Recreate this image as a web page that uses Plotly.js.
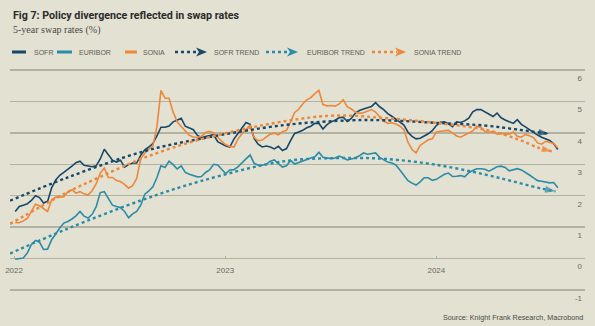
<!DOCTYPE html>
<html><head><meta charset="utf-8">
<script src="https://cdn.plot.ly/plotly-3.0.1.min.js"></script>
<style>html,body{margin:0;padding:0;background:#e2e1d2;}#chart{width:595px;height:326px;}</style>
</head><body><div id="chart"></div>
<script>
// ---------- DATA ----------
const dates = [
'2022-01-03','2022-01-10','2022-01-17','2022-01-24','2022-01-31','2022-02-07','2022-02-14','2022-02-21','2022-02-28','2022-03-07',
'2022-03-14','2022-03-21','2022-03-28','2022-04-04','2022-04-11','2022-04-18','2022-04-25','2022-05-02','2022-05-09','2022-05-16',
'2022-05-23','2022-05-30','2022-06-06','2022-06-13','2022-06-20','2022-06-27','2022-07-04','2022-07-11','2022-07-18','2022-07-25',
'2022-08-01','2022-08-08','2022-08-15','2022-08-22','2022-08-29','2022-09-05','2022-09-12','2022-09-19','2022-09-26','2022-10-03',
'2022-10-10','2022-10-17','2022-10-24','2022-10-31','2022-11-07','2022-11-14','2022-11-21','2022-11-28','2022-12-05','2022-12-12',
'2022-12-19','2022-12-26','2023-01-02','2023-01-09','2023-01-16','2023-01-23','2023-01-30','2023-02-06','2023-02-13','2023-02-20',
'2023-02-27','2023-03-06','2023-03-13','2023-03-20','2023-03-27','2023-04-03','2023-04-10','2023-04-17','2023-04-24','2023-05-01',
'2023-05-08','2023-05-15','2023-05-22','2023-05-29','2023-06-05','2023-06-12','2023-06-19','2023-06-26','2023-07-03','2023-07-10',
'2023-07-17','2023-07-24','2023-07-31','2023-08-07','2023-08-14','2023-08-21','2023-08-28','2023-09-04','2023-09-11','2023-09-18',
'2023-09-25','2023-10-02','2023-10-09','2023-10-16','2023-10-23','2023-10-30','2023-11-06','2023-11-13','2023-11-20','2023-11-27',
'2023-12-04','2023-12-11','2023-12-18','2023-12-25','2024-01-01','2024-01-08','2024-01-15','2024-01-22','2024-01-29','2024-02-05',
'2024-02-12','2024-02-19','2024-02-26','2024-03-04','2024-03-11','2024-03-18','2024-03-25','2024-04-01','2024-04-08','2024-04-15',
'2024-04-22','2024-04-29','2024-05-06','2024-05-13','2024-05-20','2024-05-27','2024-06-03','2024-06-10','2024-06-17','2024-06-24',
'2024-07-01','2024-07-08','2024-07-15','2024-07-22','2024-07-29'];

const sofr = [
1.50,1.66,1.70,1.74,1.85,2.00,1.94,1.77,1.82,2.25,
2.50,2.65,2.74,2.83,2.94,3.05,3.10,2.97,2.94,2.92,
2.95,3.17,3.48,3.30,3.13,3.07,3.13,2.91,2.99,3.04,
3.04,3.29,3.46,3.55,3.66,3.90,4.18,4.18,4.22,4.35,
4.40,4.46,4.21,4.15,4.10,3.92,3.85,3.88,3.91,3.94,
3.72,3.65,3.58,3.55,3.80,3.98,4.15,4.33,4.27,3.82,
3.64,3.55,3.58,3.55,3.49,3.57,3.44,3.50,3.75,3.98,
4.03,4.08,4.16,4.21,4.30,4.30,4.12,4.26,4.35,4.40,
4.48,4.50,4.36,4.46,4.63,4.71,4.76,4.80,4.84,4.96,
4.83,4.74,4.61,4.53,4.43,4.35,4.25,4.02,3.89,3.81,
3.83,3.90,3.97,4.07,4.23,4.34,4.35,4.29,4.20,4.35,
4.33,4.38,4.47,4.67,4.74,4.74,4.67,4.59,4.52,4.63,
4.48,4.41,4.35,4.30,4.42,4.27,4.19,4.10,4.02,3.93,
3.86,3.80,3.76,3.65,3.47];

const euribor = [
-0.02,0.00,0.02,0.18,0.45,0.58,0.52,0.29,0.30,0.60,
0.80,0.97,1.13,1.18,1.26,1.36,1.50,1.35,1.29,1.41,
1.65,2.10,2.13,1.89,1.70,1.66,1.62,1.50,1.30,1.42,
1.50,1.70,2.05,2.15,2.28,2.58,2.95,2.90,3.10,2.99,
2.85,2.95,2.74,2.68,2.64,2.60,2.61,2.74,2.82,3.00,
2.98,2.85,2.70,2.82,2.83,2.92,3.05,3.20,3.30,3.03,
2.97,2.97,3.00,3.10,3.14,3.02,2.91,2.95,3.12,3.01,
3.06,3.12,3.15,3.20,3.24,3.38,3.22,3.20,3.18,3.20,
3.26,3.21,3.14,3.17,3.20,3.27,3.36,3.32,3.34,3.36,
3.22,3.14,3.07,3.04,2.98,2.82,2.63,2.48,2.40,2.34,
2.44,2.57,2.57,2.49,2.52,2.61,2.68,2.72,2.61,2.62,
2.64,2.60,2.73,2.80,2.86,2.86,2.84,2.78,2.86,2.92,
2.94,2.90,2.79,2.82,2.86,2.82,2.75,2.66,2.57,2.48,
2.46,2.44,2.41,2.42,2.25];

const sonia = [
1.15,1.14,1.20,1.28,1.50,1.73,1.68,1.58,1.50,1.87,
1.96,1.95,1.97,2.12,2.19,2.08,2.13,2.06,2.02,2.16,
2.38,2.72,2.88,2.58,2.58,2.48,2.45,2.36,2.24,2.32,
2.55,3.18,3.35,3.48,3.58,4.20,5.35,5.10,5.10,4.66,
4.35,4.20,4.05,3.92,3.87,3.85,3.89,4.01,4.05,4.00,
3.86,3.73,3.62,3.57,3.55,3.80,3.97,4.10,4.25,3.85,
3.75,3.77,3.86,3.96,3.99,3.94,4.04,4.08,4.35,4.65,
4.75,4.92,5.05,5.12,5.25,5.35,4.90,4.86,4.87,4.85,
4.92,5.05,4.83,4.76,4.66,4.62,4.64,4.68,4.74,4.66,
4.50,4.37,4.30,4.32,4.28,4.21,4.10,3.70,3.47,3.36,
3.60,3.70,3.78,3.81,4.03,4.05,4.07,4.08,4.00,3.90,
3.86,3.93,3.98,4.06,4.21,4.17,4.04,4.02,4.04,3.96,
3.98,3.96,3.96,4.03,3.89,3.86,3.95,3.91,3.85,3.68,
3.64,3.73,3.70,3.66,3.52];

const sofrTrendDates = ['2021-12-25','2022-04-02','2022-08-13','2022-11-19','2023-04-14','2023-08-08','2023-10-05','2023-12-30','2024-03-26','2024-05-22','2024-07-14'];
const sofrTrend      = [1.84,2.57,3.41,3.81,4.25,4.40,4.40,4.32,4.23,4.10,3.97];
const euriborTrendDates = ['2021-12-25','2022-04-02','2022-08-13','2022-11-19','2023-04-14','2023-08-08','2023-10-05','2023-12-30','2024-03-26','2024-05-22','2024-07-02','2024-07-25'];
const euriborTrend      = [0.16,0.94,1.88,2.46,3.10,3.20,3.17,2.99,2.67,2.41,2.22,2.14];
const soniaTrendDates = ['2021-12-25','2022-04-02','2022-05-30','2022-08-13','2022-11-19','2023-04-14','2023-07-09','2023-10-05','2023-12-30','2024-03-26','2024-05-22','2024-06-26','2024-07-19'];
const soniaTrend      = [1.10,2.10,2.60,3.20,3.79,4.37,4.55,4.47,4.32,4.10,3.79,3.52,3.41];

const yTicks = [-1,0,1,2,3,4,5,6];
const xTickVals = ['2022-01-01','2023-01-01','2024-01-01'];
const xTickText = ['2022','2023','2024'];
const xRange = ['2021-12-25','2024-09-14'];
const seriesNames = ['SOFR','EURIBOR','SONIA','SOFR TREND','EURIBOR TREND','SONIA TREND'];

// ---------- STYLE ----------
const C = {sofr:'#174769', eur:'#2b8ca8', son:'#ee873a', bg:'#e2e1d2', grid:'#b3b2a0', txt:'#5d5d55'};
const W=595,H=326,ML=10,MR=10,MT=60,MB=18;
const PW=W-ML-MR, PH=H-MT-MB;
const px = x => (x-ML)/PW;
const py = y => (H-MB-y)/PH;
const yMin=-1.5727, yMax=6.318;

function line(x,y,color,name){
  return {type:'scatter',mode:'lines',x:x,y:y,name:name,line:{color:color,width:1.6},hoverinfo:'skip',showlegend:false};
}
function trend(x,y,color,name){
  const n=x.length;
  return {type:'scatter',mode:'lines+markers',x:x,y:y,name:name,showlegend:false,hoverinfo:'skip',
    line:{color:color,width:2.4,dash:'dot',shape:'spline',smoothing:1},
    marker:{symbol:'arrow',angleref:'previous',size:x.map((_,i)=>i===n-1?11:0),color:color,line:{width:0}}};
}
const data = [
  line(dates,sofr,C.sofr,seriesNames[0]),
  line(dates,euribor,C.eur,seriesNames[1]),
  line(dates,sonia,C.son,seriesNames[2]),
  trend(sofrTrendDates,sofrTrend,C.sofr,seriesNames[3]),
  trend(euriborTrendDates,euriborTrend,C.eur,seriesNames[4]),
  trend(soniaTrendDates,soniaTrend,C.son,seriesNames[5])
];

const shapes = [];
const ann = [];

// ---------- LEGEND (drawn) ----------
const legY = 52;
const legItems = [
  {x0:12,x1:26,tx:32,color:C.sofr,dot:false},
  {x0:57,x1:72,tx:77,color:C.eur,dot:false},
  {x0:125,x1:137,tx:141,color:C.son,dot:false},
  {x0:175,x1:198,tx:212,color:C.sofr,dot:true},
  {x0:266,x1:289,tx:305,color:C.eur,dot:true},
  {x0:372,x1:397,tx:412,color:C.son,dot:true}
];
legItems.forEach((it,i)=>{
  shapes.push({type:'line',xref:'paper',yref:'paper',x0:px(it.x0),x1:px(it.x1),y0:py(legY),y1:py(legY),
    line:{color:it.color,width:it.dot?2.4:3,dash:it.dot?'dot':'solid'}});
  if(it.dot){
    const b=it.x1-2, t=it.x1+9;
    shapes.push({type:'path',xref:'paper',yref:'paper',fillcolor:it.color,line:{width:0},
      path:`M${px(b)},${py(legY-4.5)} L${px(t)},${py(legY)} L${px(b)},${py(legY+4.5)} L${px(b+3)},${py(legY)} Z`});
  }
  ann.push({xref:'paper',yref:'paper',x:px(it.tx),y:py(legY),xanchor:'left',yanchor:'middle',showarrow:false,
    text:seriesNames[i],font:{family:'Liberation Sans, Arial',size:7,color:C.txt}});
});

ann.push({xref:'paper',yref:'paper',x:px(11),y:py(16),xanchor:'left',yanchor:'middle',showarrow:false,
  text:'<b>Fig 7: Policy divergence reflected in swap rates</b>',font:{family:'Roboto, Arial',size:10.7,color:'#2b2b2b'}});
ann.push({xref:'paper',yref:'paper',x:px(11),y:py(30),xanchor:'left',yanchor:'middle',showarrow:false,
  text:'5-year swap rates (%)',font:{family:'Liberation Serif, serif',size:10,color:'#4a4a44'}});
ann.push({xref:'paper',yref:'paper',x:px(585),y:py(317),xanchor:'right',yanchor:'middle',showarrow:false,
  text:'Source: Knight Frank Research, Macrobond',font:{family:'Liberation Sans, Arial',size:7.2,color:'#4a4a44'}});

const layout = {
  width:W,height:H,margin:{l:ML,r:MR,t:MT,b:MB,pad:0},
  paper_bgcolor:C.bg,plot_bgcolor:C.bg,showlegend:false,
  xaxis:{type:'date',range:xRange,anchor:'free',position:(0-yMin)/(yMax-yMin),
    tickmode:'array',tickvals:xTickVals,ticktext:xTickText,showgrid:false,zeroline:false,showline:false,
    ticks:'inside',ticklen:3,tickcolor:'#aeada0',ticklabelstandoff:5,
    tickfont:{family:'Liberation Sans, Arial',size:8,color:'#6a6a60'},fixedrange:true},
  yaxis:{range:[yMin,yMax],side:'right',tickmode:'array',tickvals:yTicks,ticktext:yTicks.map(String),
    showgrid:true,gridcolor:C.grid,gridwidth:1.3,zeroline:false,showline:false,ticks:'',
    ticklabelposition:'inside',ticklabelshift:8,ticklabelstandoff:0,
    tickfont:{family:'Liberation Sans, Arial',size:8,color:'#6a6a60'},fixedrange:true},
  shapes:shapes,annotations:ann
};
Plotly.newPlot('chart',data,layout,{staticPlot:true,displayModeBar:false});
</script></body></html>
